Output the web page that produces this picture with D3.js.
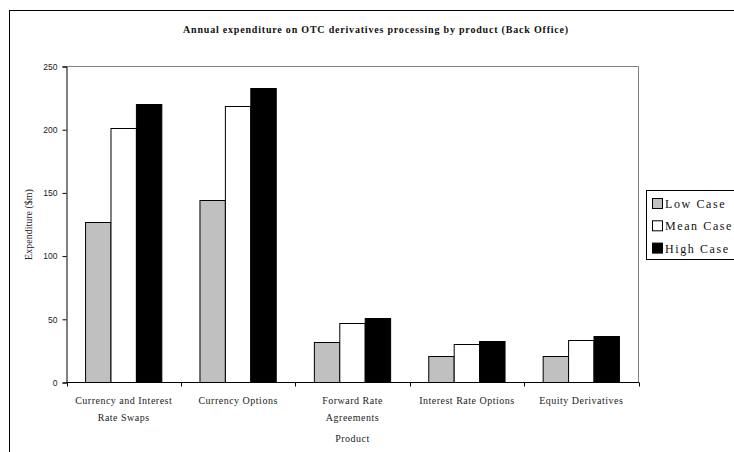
<!DOCTYPE html>
<html>
<head>
<meta charset="utf-8">
<script src="https://cdn.jsdelivr.net/npm/d3@7/dist/d3.min.js"></script>
<style>
  html, body { margin: 0; padding: 0; background: #fff; }
  svg { display: block; }
</style>
</head>
<body>
<svg id="chart" width="734" height="452"></svg>
<script>
// Annual back-office spend on OTC derivatives processing, by product ($m)
const products = [
  ["Currency and Interest", "Rate Swaps"],
  ["Currency Options"],
  ["Forward Rate", "Agreements"],
  ["Interest Rate Options"],
  ["Equity Derivatives"]
];
const seriesNames = ["Low Case", "Mean Case", "High Case"];
const lowCase  = [127, 144, 32, 21, 21];
const meanCase = [201, 219, 47, 30.5, 33.5];
const highCase = [220, 233, 51, 33, 36.5];
const yTicks = [0, 50, 100, 150, 200, 250];

const seriesValues = [lowCase, meanCase, highCase];
const fills = ["#c0c0c0", "#ffffff", "#000000"];

const svg = d3.select("#chart");
const plot = { left: 66.5, right: 638.5, top: 66.5, bottom: 382.5 };

// outer chart frame
svg.append("rect")
  .attr("x", 9.5).attr("y", 10.5)
  .attr("width", 760).attr("height", 460)
  .attr("fill", "none").attr("stroke", "#000").attr("stroke-width", 1);

const x0 = d3.scaleBand()
  .domain(d3.range(products.length))
  .range([plot.left, plot.right])
  .paddingInner(0).paddingOuter(0);

// three bars per group, with a 150% gap split across both sides
const x1 = d3.scaleBand()
  .domain(d3.range(seriesNames.length))
  .range([0, x0.bandwidth()])
  .paddingInner(0).paddingOuter(0.75);

const y = d3.scaleLinear().domain([0, 250]).range([plot.bottom, plot.top]);

// plot area border (top and right)
svg.append("path")
  .attr("d", `M${plot.left},${plot.top}H${plot.right}V${plot.bottom}`)
  .attr("fill", "none").attr("stroke", "#808080").attr("stroke-width", 1);

// bars
const groups = svg.append("g").selectAll("g")
  .data(products.map((p, i) => i))
  .join("g")
  .attr("transform", i => `translate(${x0(i)},0)`);

groups.selectAll("rect")
  .data(i => seriesValues.map((vals, s) => ({ s, v: vals[i] })))
  .join("rect")
  .attr("x", d => x1(d.s))
  .attr("width", x1.bandwidth())
  .attr("y", d => Math.round(y(d.v)) + 0.5)
  .attr("height", d => plot.bottom - (Math.round(y(d.v)) + 0.5))
  .attr("fill", d => fills[d.s])
  .attr("stroke", "#000")
  .attr("stroke-width", 1);

// y axis
const yAxis = d3.axisLeft(y).tickValues(yTicks).tickSize(4).tickPadding(5);
const gy = svg.append("g").attr("transform", `translate(${plot.left},0)`).call(yAxis);
gy.select(".domain").attr("stroke", "#000");
gy.selectAll(".tick line").attr("stroke", "#000");
gy.selectAll(".tick text")
  .attr("font-family", "Liberation Sans, Arial, sans-serif")
  .attr("font-size", 8.5)
  .attr("fill", "#222");

// x axis: ticks at category boundaries
svg.append("line")
  .attr("x1", plot.left).attr("x2", plot.right + 0.5)
  .attr("y1", plot.bottom).attr("y2", plot.bottom)
  .attr("stroke", "#000");
const bounds = d3.range(products.length + 1).map(i => i < products.length ? x0(i) : plot.right);
svg.append("g").selectAll("line")
  .data(bounds)
  .join("line")
  .attr("x1", d => Math.round(d) + 0.5).attr("x2", d => Math.round(d) + 0.5)
  .attr("y1", plot.bottom).attr("y2", plot.bottom + 4)
  .attr("stroke", "#000");

// category labels
const catLabels = svg.append("g")
  .attr("font-family", "Liberation Serif, Times New Roman, serif")
  .attr("font-size", 10)
  .attr("letter-spacing", 0.5)
  .attr("fill", "#222")
  .attr("text-anchor", "middle");
catLabels.selectAll("text")
  .data(products.map((p, i) => ({ p, i })))
  .join("text")
  .attr("x", d => x0(d.i) + x0.bandwidth() / 2)
  .attr("y", 404)
  .selectAll("tspan")
  .data(d => d.p.map((line, k) => ({ line, k, cx: x0(d.i) + x0.bandwidth() / 2 })))
  .join("tspan")
  .attr("x", d => d.cx)
  .attr("dy", d => d.k === 0 ? 0 : 17)
  .text(d => d.line);

// axis titles
svg.append("text")
  .attr("x", (plot.left + plot.right) / 2)
  .attr("y", 442)
  .attr("text-anchor", "middle")
  .attr("font-family", "Liberation Serif, Times New Roman, serif")
  .attr("font-size", 10)
  .attr("letter-spacing", 0.5)
  .attr("fill", "#222")
  .text("Product");

svg.append("text")
  .attr("transform", `translate(32,${(plot.top + plot.bottom) / 2}) rotate(-90)`)
  .attr("text-anchor", "middle")
  .attr("font-family", "Liberation Serif, Times New Roman, serif")
  .attr("font-size", 10)
  .attr("fill", "#222")
  .text("Expenditure ($m)");

// chart title
svg.append("text")
  .attr("x", 376)
  .attr("y", 33)
  .attr("text-anchor", "middle")
  .attr("font-family", "Liberation Serif, Times New Roman, serif")
  .attr("font-weight", "bold")
  .attr("font-size", 10)
  .attr("letter-spacing", 0.8)
  .attr("fill", "#111")
  .text("Annual expenditure on OTC derivatives processing by product (Back Office)");

// legend
const legend = svg.append("g");
legend.append("rect")
  .attr("x", 646.5).attr("y", 190.5)
  .attr("width", 120).attr("height", 69)
  .attr("fill", "#fff").attr("stroke", "#000");
const items = legend.selectAll("g.item")
  .data(seriesNames.map((name, s) => ({ name, s })))
  .join("g")
  .attr("class", "item")
  .attr("transform", d => `translate(0,${204 + d.s * 22.3})`);
items.append("rect")
  .attr("x", 652.5).attr("y", -5.5)
  .attr("width", 10).attr("height", 10)
  .attr("fill", d => fills[d.s])
  .attr("stroke", "#000");
items.append("text")
  .attr("x", 665)
  .attr("y", 4)
  .attr("font-family", "Liberation Serif, Times New Roman, serif")
  .attr("font-size", 12)
  .attr("letter-spacing", 1.6)
  .attr("fill", "#111")
  .text(d => d.name);
</script>
</body>
</html>
